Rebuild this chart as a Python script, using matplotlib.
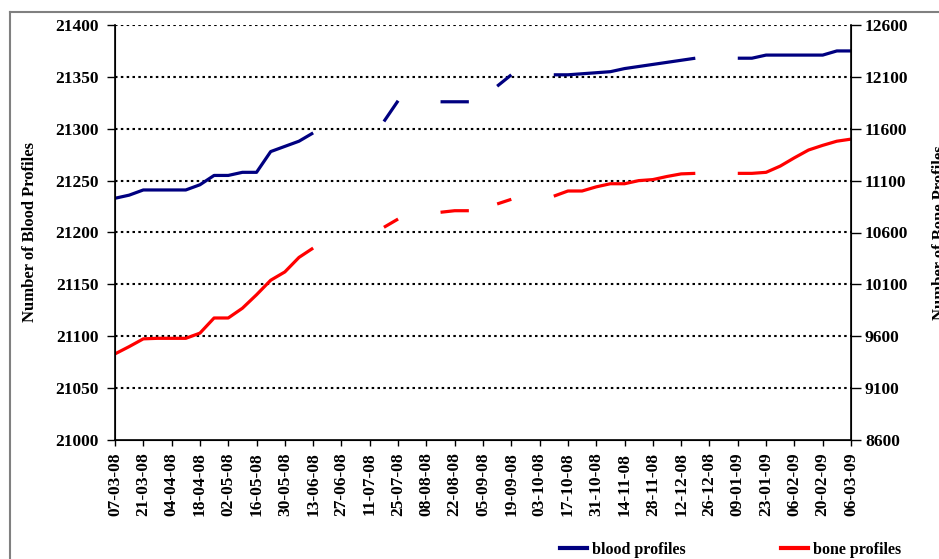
import numpy as np
import pandas as pd
import matplotlib
matplotlib.use("Agg")
import matplotlib.pyplot as plt
from matplotlib.lines import Line2D

nan = np.nan
# weekly dates (Fridays) from 07-03-08 to 06-03-09
dates = pd.date_range("2008-03-07", "2009-03-06", freq="7D")

blood = [21233, 21236, 21241, 21241, 21241, 21241, 21246, 21255, 21255, 21258,
         21258, 21278, 21283, 21288, 21296, nan, nan, nan, nan, 21307,
         21327, nan, nan, 21326, 21326, 21326, nan, 21341, 21352, nan,
         nan, 21352, 21352, 21353, 21354, 21355, 21358, 21360, 21362, 21364,
         21366, 21368, nan, nan, 21368, 21368, 21371, 21371, 21371, 21371,
         21371, 21375, 21375]

bone = [9430, 9500, 9575, 9580, 9580, 9580, 9630, 9776, 9776, 9870,
        10000, 10140, 10220, 10360, 10450, nan, nan, nan, nan, 10650,
        10730, nan, nan, 10795, 10810, 10810, nan, 10875, 10920, nan,
        nan, 10950, 11000, 11000, 11040, 11070, 11070, 11100, 11110, 11140,
        11165, 11170, nan, nan, 11170, 11170, 11180, 11240, 11320, 11395,
        11440, 11480, 11500]

left_ticks = [21000, 21050, 21100, 21150, 21200, 21250, 21300, 21350, 21400]
right_ticks = [8600, 9100, 9600, 10100, 10600, 11100, 11600, 12100, 12600]

FONT = "Liberation Serif"
plt.rcParams["font.family"] = [FONT, "DejaVu Serif"]
plt.rcParams["font.weight"] = "bold"

fig = plt.figure(figsize=(9.39, 5.59), dpi=100)
ax = fig.add_axes([115/939, 1-440/559, (851-115)/939, (440-25)/559])
ax2 = ax.twinx()

ax.plot(dates, blood, color="#000080", lw=2.3, solid_capstyle="butt")
ax2.plot(dates, bone, color="#FF0000", lw=2.3, solid_capstyle="butt")

ax.set_ylim(21000, 21400)
ax2.set_ylim(8600, 12600)
ax.set_xlim(dates[0], dates[-1])
ax.set_yticks(left_ticks)
ax2.set_yticks(right_ticks)
ax.set_yticklabels([str(t) for t in left_ticks], fontsize=12.5, fontweight="bold")
ax2.set_yticklabels([str(t) for t in right_ticks], fontsize=12.5, fontweight="bold")

xt = pd.date_range(dates[0], dates[-1], freq="14D")
ax.set_xticks(xt)
ax.set_xticklabels([d.strftime("%d-%m-%y") for d in xt], rotation=90,
                   fontsize=12.5, fontweight="bold")

for t in left_ticks[1:]:
    ax.axhline(t, color="black", lw=1.5, ls=(0, (1.2, 1.6)), zorder=0.5)

for a in (ax, ax2):
    a.spines["top"].set_visible(False)
ax.tick_params(axis="y", direction="out", length=6, width=1, pad=6)
ax.tick_params(axis="x", direction="out", length=4, width=1, pad=5)
ax2.tick_params(axis="y", direction="out", length=7, width=1, pad=3)
ax.spines["left"].set_linewidth(1.2)
ax2.spines["right"].set_linewidth(1.2)
ax.spines["bottom"].set_linewidth(1.2)

ax.set_ylabel("Number of Blood Profiles", fontsize=12, fontweight="bold", labelpad=12)
ax2.set_ylabel("Number of Bone Profiles", fontsize=12, fontweight="bold", labelpad=17)

# outer chart frame (grey)
fig.add_artist(Line2D([10/939, 1.0], [1-12/559, 1-12/559], transform=fig.transFigure,
                      color="#808080", lw=1.5))
fig.add_artist(Line2D([10/939, 10/939], [0, 1-12/559], transform=fig.transFigure,
                      color="#808080", lw=1.5))

h1 = Line2D([], [], color="#000080", lw=3)
h2 = Line2D([], [], color="#FF0000", lw=3)
leg_kw = dict(loc="center left", frameon=False, handlelength=1.7, handletextpad=0.3,
              borderaxespad=0, borderpad=0,
              prop={"family": FONT, "weight": "bold", "size": 11.5})
fig.legend([h1], ["blood profiles"], bbox_to_anchor=(560/939, 1-550/559), **leg_kw)
fig.legend([h2], ["bone profiles"], bbox_to_anchor=(781/939, 1-550/559), **leg_kw)

fig.savefig("out.png", dpi=100)
